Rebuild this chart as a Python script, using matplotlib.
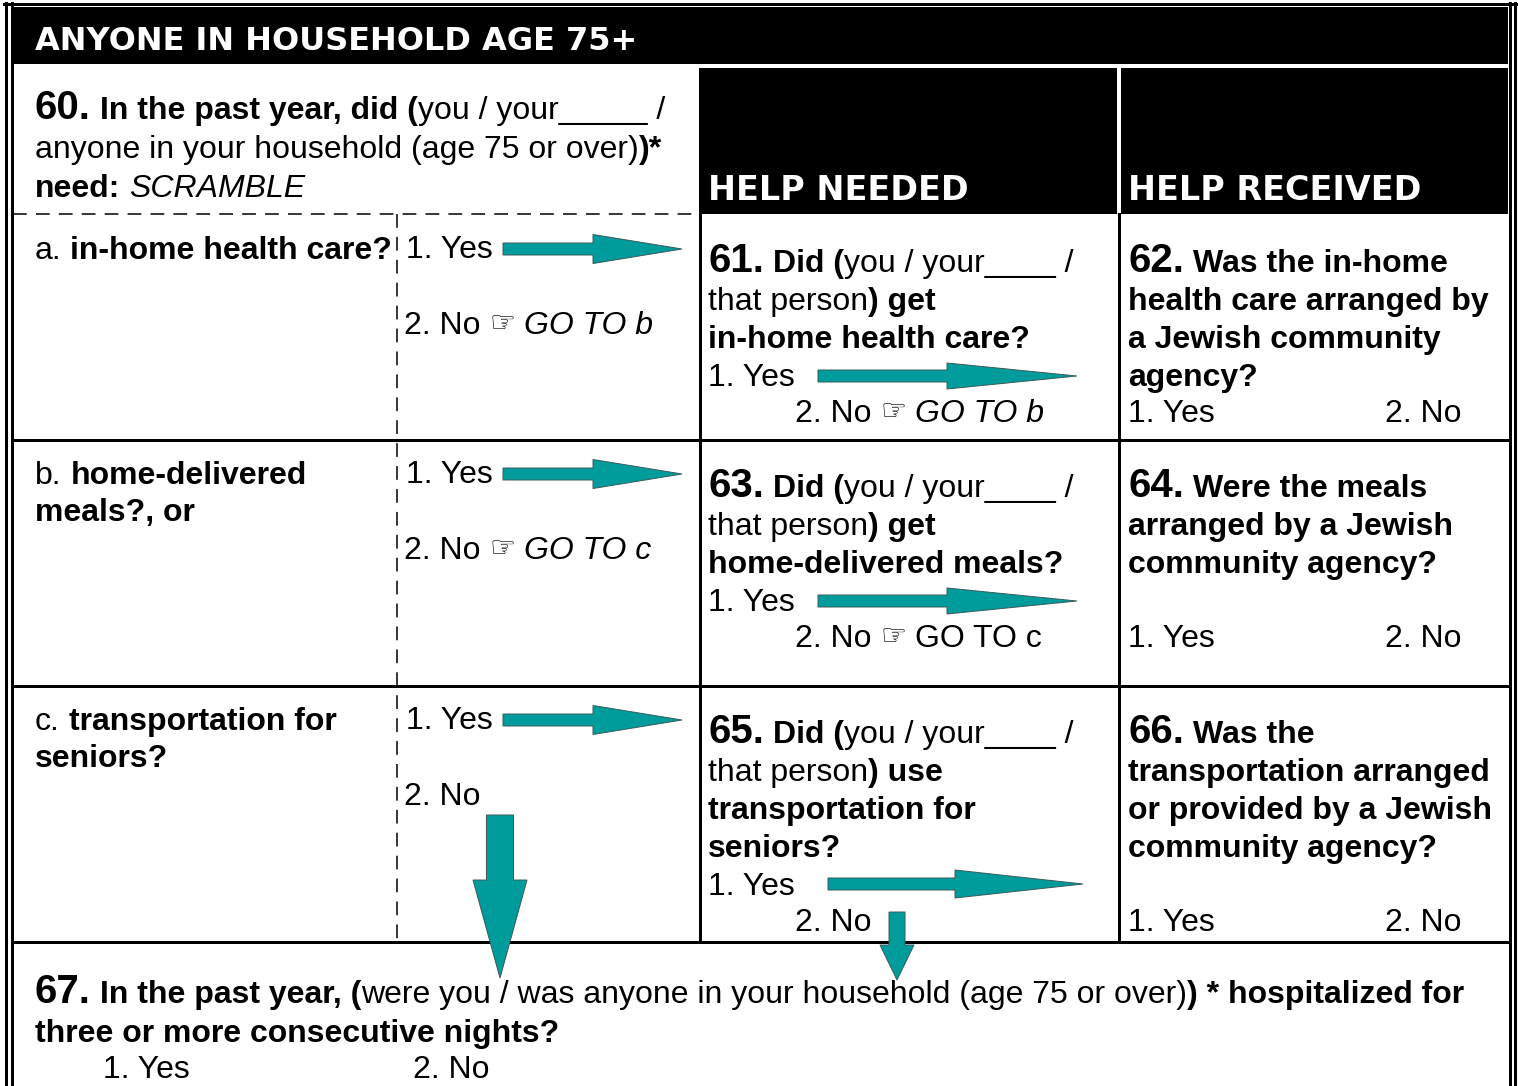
import matplotlib
matplotlib.use('Agg')
import matplotlib.pyplot as plt
from matplotlib.patches import Rectangle, Polygon
from matplotlib.lines import Line2D

# ---------------- content ----------------
TITLE = "ANYONE IN HOUSEHOLD AGE 75+"
COL_HEADERS = ["HELP NEEDED", "HELP RECEIVED"]

Q60 = [
    [("60.", 'N'), (" In the past year, did (", 'b'), ("you / your_____ /", 'r')],
    [("anyone in your household (age 75 or over)", 'r'), (")*", 'b')],
    [("need: ", 'b'), ("SCRAMBLE", 'i')],
]

ITEMS = [
    [[("a. ", 'r'), ("in-home health care?", 'b')]],
    [[("b. ", 'r'), ("home-delivered", 'b')], [("meals?, or", 'b')]],
    [[("c. ", 'r'), ("transportation for", 'b')], [("seniors?", 'b')]],
]
YES_OPT = [("1. Yes", 'r')]
NO_OPTS = [
    [("2. No ", 'r'), ("\u261E", 'h'), (" GO TO b", 'i')],
    [("2. No ", 'r'), ("\u261E", 'h'), (" GO TO c", 'i')],
    [("2. No", 'r')],
]

NEEDED = [
    [[("61.", 'N'), (" Did (", 'b'), ("you / your____ /", 'r')],
     [("that person", 'r'), (") get", 'b')],
     [("in-home health care?", 'b')],
     [("1. Yes", 'r')]],
    [[("63.", 'N'), (" Did (", 'b'), ("you / your____ /", 'r')],
     [("that person", 'r'), (") get", 'b')],
     [("home-delivered meals?", 'b')],
     [("1. Yes", 'r')]],
    [[("65.", 'N'), (" Did (", 'b'), ("you / your____ /", 'r')],
     [("that person", 'r'), (") use", 'b')],
     [("transportation for", 'b')],
     [("seniors?", 'b')],
     [("1. Yes", 'r')]],
]
NEEDED_NO = [
    [("2. No ", 'r'), ("\u261E", 'h'), (" GO TO b", 'i')],
    [("2. No ", 'r'), ("\u261E", 'h'), (" GO TO c", 'r')],
    [("2. No", 'r')],
]

RECEIVED = [
    [[("62.", 'N'), (" Was the in-home", 'b')],
     [("health care arranged by", 'b')],
     [("a Jewish community", 'b')],
     [("agency?", 'b')]],
    [[("64.", 'N'), (" Were the meals", 'b')],
     [("arranged by a Jewish", 'b')],
     [("community agency?", 'b')]],
    [[("66.", 'N'), (" Was the", 'b')],
     [("transportation arranged", 'b')],
     [("or provided by a Jewish", 'b')],
     [("community agency?", 'b')]],
]
RECEIVED_OPTS = [[("1. Yes", 'r')], [("2. No", 'r')]]

Q67 = [
    [("67.", 'N'), (" In the past year, (", 'b'),
     ("were you / was anyone in your household (age 75 or over)", 'r'),
     (") * hospitalized for", 'b')],
    [("three or more consecutive nights?", 'b')],
]
Q67_OPTS = [[("1. Yes", 'r')], [("2. No", 'r')]]

# ---------------- layout ----------------
W, H = 1518, 1086
COL_X = [13, 397, 700, 1119, 1508]
ROW_Y = [214, 440, 686, 942]
ROW_BASE = [259, 484, 730]          # first text baseline in each row
LINE_STEP = 38
TEAL = '#009b9b'
EDGE = '#3a5a5a'

fig = plt.figure(figsize=(W / 100, H / 100), dpi=100)
ax = fig.add_axes([0, 0, 1, 1])
ax.set_xlim(0, W)
ax.set_ylim(H, 0)
ax.axis('off')
renderer = fig.canvas.get_renderer()

BODY = 23
NUM = 29


def fkw(st):
    if st == 'r':
        return dict(family=['Liberation Sans', 'DejaVu Sans'], size=BODY)
    if st == 'b':
        return dict(family=['Liberation Sans', 'DejaVu Sans'], size=BODY, weight='bold')
    if st == 'i':
        return dict(family=['Liberation Sans', 'DejaVu Sans'], size=BODY, style='italic')
    if st == 'N':
        return dict(family=['Liberation Sans', 'DejaVu Sans'], size=NUM, weight='bold')
    if st == 'h':
        return dict(family=['DejaVu Sans'], size=21)
    if st == 'H':
        return dict(family=['DejaVu Sans'], size=23, weight='bold')
    if st == 'H2':
        return dict(family=['DejaVu Sans'], size=24, weight='bold')


def twidth(s, st):
    t = ax.text(0, 0, s, **fkw(st))
    w = t.get_window_extent(renderer).width
    t.remove()
    return w


_sp = {}


def space_w(st):
    if st not in _sp:
        _sp[st] = twidth('x x', st) - twidth('xx', st)
    return _sp[st]


def runs(x, y, parts, color='black'):
    for s, st in parts:
        lead = len(s) - len(s.lstrip(' '))
        trail = len(s) - len(s.rstrip(' '))
        core = s.strip(' ')
        x += lead * space_w(st)
        if core:
            yy = y - 2 if st == 'h' else y
            t = ax.text(x, yy, core, va='baseline', ha='left', color=color, **fkw(st))
            x += t.get_window_extent(renderer).width
        x += trail * space_w(st)
    return x


def harrow(x0, xh, xt, yc, sh, hh):
    pts = [(x0, yc - sh), (xh, yc - sh), (xh, yc - hh), (xt, yc),
           (xh, yc + hh), (xh, yc + sh), (x0, yc + sh)]
    ax.add_patch(Polygon(pts, closed=True, fc=TEAL, ec=EDGE, lw=0.7, zorder=5))


def varrow(xc, y0, yh, yt, sw, hw):
    pts = [(xc - sw, y0), (xc + sw, y0), (xc + sw, yh), (xc + hw, yh), (xc, yt),
           (xc - hw, yh), (xc - sw, yh)]
    ax.add_patch(Polygon(pts, closed=True, fc=TEAL, ec=EDGE, lw=0.7, zorder=5))


LW = 3 * 72 / 100  # 3 px

# outer double border
for xx in (5.5, 11.5, 1509.5, 1514.5):
    ax.add_line(Line2D([xx, xx], [3, H], color='black', lw=LW))
ax.add_line(Line2D([4, 1516], [4, 4], color='black', lw=LW))

# header bands
ax.add_patch(Rectangle((13, 7), 1495, 57, fc='black', ec='none'))
ax.add_patch(Rectangle((COL_X[2] - 1, 68), COL_X[3] - COL_X[2] - 1, ROW_Y[0] - 68, fc='black', ec='none'))
ax.add_patch(Rectangle((COL_X[3] + 2, 68), COL_X[4] - COL_X[3] - 2, ROW_Y[0] - 68, fc='black', ec='none'))

# grid
for yy in ROW_Y[1:]:
    ax.add_line(Line2D([COL_X[0], COL_X[4]], [yy, yy], color='black', lw=LW))
for xx in (COL_X[2], COL_X[3]):
    ax.add_line(Line2D([xx, xx], [ROW_Y[0], ROW_Y[3]], color='black', lw=LW))
ax.add_line(Line2D([COL_X[1], COL_X[1]], [ROW_Y[0], ROW_Y[3]], color='black', lw=1.1,
                   dashes=(9, 6)))
ax.add_line(Line2D([COL_X[0], COL_X[2] - 3], [ROW_Y[0], ROW_Y[0]], color='black', lw=1.1,
                   dashes=(9, 6)))

# header texts
runs(35, 50, [(TITLE, 'H')], color='white')
runs(708, 200, [(COL_HEADERS[0], 'H2')], color='white')
runs(1128, 200, [(COL_HEADERS[1], 'H2')], color='white')

# Q60
for i, line in enumerate(Q60):
    runs(35, 119 + i * 39, line)

# rows
for r in range(3):
    base = ROW_BASE[r]
    for i, line in enumerate(ITEMS[r]):
        runs(35, base + i * 37, line)
    runs(406, base - 1, YES_OPT)
    runs(404, base + 75, NO_OPTS[r])
    harrow(503, 593, 682, base - 10, 6, 14.5)

    nb = base + 13
    lines = NEEDED[r]
    for i, line in enumerate(lines):
        runs(708, nb + i * LINE_STEP, line)
    yes_y = nb + (len(lines) - 1) * LINE_STEP
    runs(795, yes_y + 36, NEEDED_NO[r])

    for i, line in enumerate(RECEIVED[r]):
        runs(1128, nb + i * LINE_STEP, line)
    runs(1128, yes_y + 36, RECEIVED_OPTS[0])
    runs(1385, yes_y + 36, RECEIVED_OPTS[1])

    if r < 2:
        harrow(818, 947, 1077, yes_y - 10, 6, 13)
    else:
        harrow(828, 955, 1083, yes_y - 11, 6, 14)

# down arrows
varrow(500, 815, 880, 978, 13.5, 27)
varrow(897, 912, 945, 980, 8, 17)

# Q67
for i, line in enumerate(Q67):
    runs(35, 1003 + i * 39, line)
runs(103, 1078, Q67_OPTS[0])
runs(413, 1078, Q67_OPTS[1])

fig.savefig('out.png', dpi=100, facecolor='white')
